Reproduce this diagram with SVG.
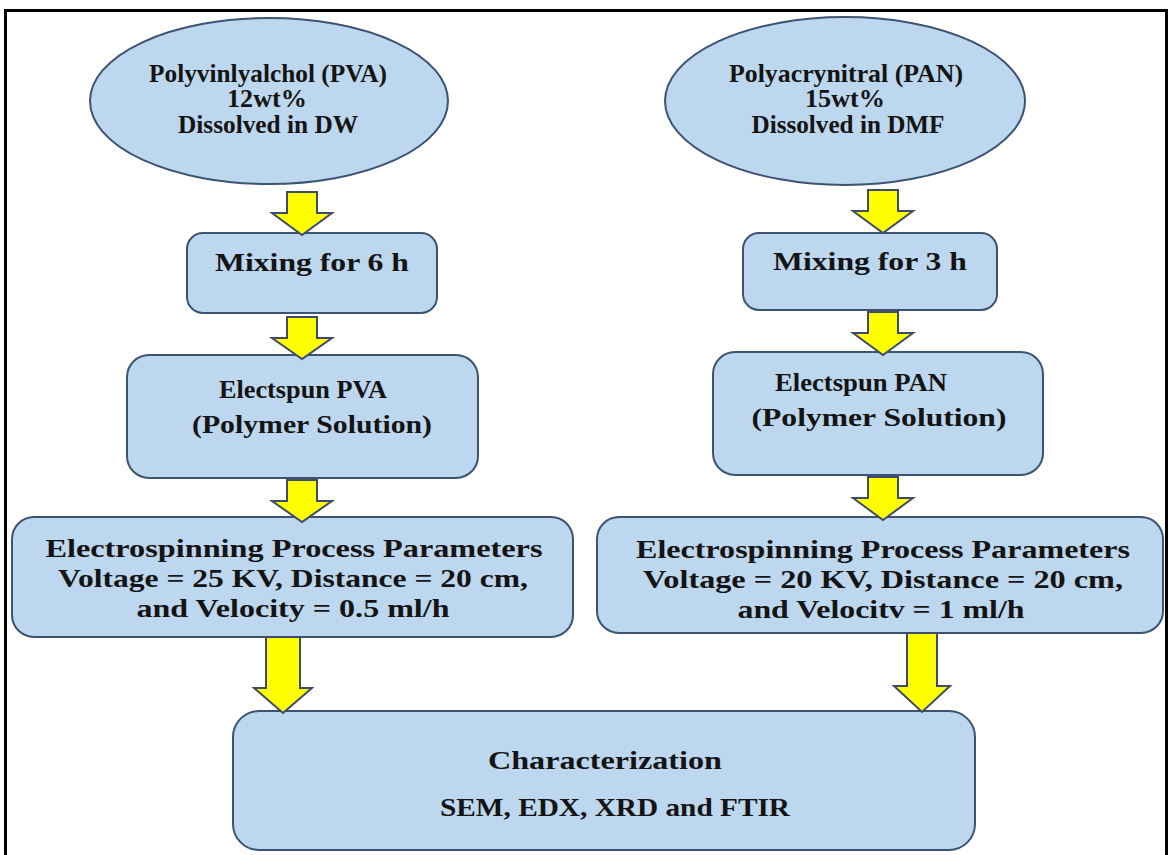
<svg xmlns="http://www.w3.org/2000/svg" width="1169" height="855" viewBox="0 0 1169 855">
<defs>
<style>
.node{fill:#BDD7EE;stroke:#3E5272;stroke-width:2}
.arr{fill:#FFFF00;stroke:#3E4A6E;stroke-width:2;stroke-linejoin:miter}
text{font-family:"Liberation Serif","DejaVu Serif Condensed","DejaVu Serif",serif;font-weight:bold;font-size:26px;fill:#141414;text-anchor:middle}
.e{font-size:25px}
</style>
</defs>
<rect width="1169" height="855" fill="#ffffff"/>
<rect x="5.5" y="10.5" width="1161" height="860" fill="none" stroke="#000" stroke-width="3"/>
<g id="pva-solution">
<ellipse class="node" cx="269" cy="101" rx="179" ry="83"/>
<text class="e" x="268" y="82" textLength="238" lengthAdjust="spacingAndGlyphs">Polyvinlyalchol (PVA)</text>
<text class="e" x="267" y="107" textLength="80" lengthAdjust="spacingAndGlyphs">12wt%</text>
<text class="e" x="268" y="133" textLength="180" lengthAdjust="spacingAndGlyphs">Dissolved in DW</text>
</g>
<g id="pan-solution">
<ellipse class="node" cx="845" cy="101" rx="180" ry="84"/>
<text class="e" x="846" y="82" textLength="234" lengthAdjust="spacingAndGlyphs">Polyacrynitral (PAN)</text>
<text class="e" x="845" y="107" textLength="80" lengthAdjust="spacingAndGlyphs">15wt%</text>
<text class="e" x="848" y="133" textLength="193" lengthAdjust="spacingAndGlyphs">Dissolved in DMF</text>
</g>
<g id="mix-pva">
<rect class="node" x="187" y="233" width="250" height="80" rx="16"/>
<text x="312" y="271" textLength="194" lengthAdjust="spacingAndGlyphs">Mixing for 6 h</text>
</g>
<g id="mix-pan">
<rect class="node" x="743" y="233" width="254" height="77" rx="16"/>
<text x="870" y="270" textLength="194" lengthAdjust="spacingAndGlyphs">Mixing for 3 h</text>
</g>
<g id="spun-pva">
<rect class="node" x="127" y="355" width="351" height="123" rx="22"/>
<text x="303" y="398" textLength="168" lengthAdjust="spacingAndGlyphs">Electspun PVA</text>
<text x="312" y="433" textLength="240" lengthAdjust="spacingAndGlyphs">(Polymer Solution)</text>
</g>
<g id="spun-pan">
<rect class="node" x="713" y="352" width="330" height="123" rx="22"/>
<text x="861" y="391" textLength="172" lengthAdjust="spacingAndGlyphs">Electspun PAN</text>
<text x="879" y="426" textLength="255" lengthAdjust="spacingAndGlyphs">(Polymer Solution)</text>
</g>
<g id="params-pva">
<rect class="node" x="12" y="517" width="561" height="120" rx="22"/>
<text x="294" y="557" textLength="497" lengthAdjust="spacingAndGlyphs">Electrospinning Process Parameters</text>
<text x="293" y="587" textLength="470" lengthAdjust="spacingAndGlyphs">Voltage = 25 KV, Distance = 20 cm,</text>
<text x="293" y="617" textLength="313" lengthAdjust="spacingAndGlyphs">and Velocity = 0.5 ml/h</text>
</g>
<g id="params-pan">
<rect class="node" x="597" y="517" width="566" height="116" rx="22"/>
<text x="883" y="558" textLength="494" lengthAdjust="spacingAndGlyphs">Electrospinning Process Parameters</text>
<text x="883" y="588" textLength="480" lengthAdjust="spacingAndGlyphs">Voltage = 20 KV, Distance = 20 cm,</text>
<text x="881" y="618" textLength="287" lengthAdjust="spacingAndGlyphs">and Velocitv = 1 ml/h</text>
</g>
<g id="characterization">
<rect class="node" x="233" y="711" width="742" height="139" rx="26"/>
<text x="605" y="769" font-size="25" textLength="234" lengthAdjust="spacingAndGlyphs">Characterization</text>
<text x="615" y="816" font-size="25" textLength="350" lengthAdjust="spacingAndGlyphs">SEM, EDX, XRD and FTIR</text>
</g>
<g id="connectors">
<path class="arr" d="M287,192H317V213H332L302,235L272,213H287Z"/>
<path class="arr" d="M287,317H317V338H332L302,359L272,338H287Z"/>
<path class="arr" d="M287,480H317V501H332L302,522L272,501H287Z"/>
<path class="arr" d="M266,637H300V688H312L283,713L254,688H266Z"/>
<path class="arr" d="M868,190H898V211H913L883,233L853,211H868Z"/>
<path class="arr" d="M868,312H898V333H913L883,355L853,333H868Z"/>
<path class="arr" d="M868,477H898V498H913L883,520L853,498H868Z"/>
<path class="arr" d="M907,633H937V686H950L922,712L894,686H907Z"/>
</g>
</svg>
